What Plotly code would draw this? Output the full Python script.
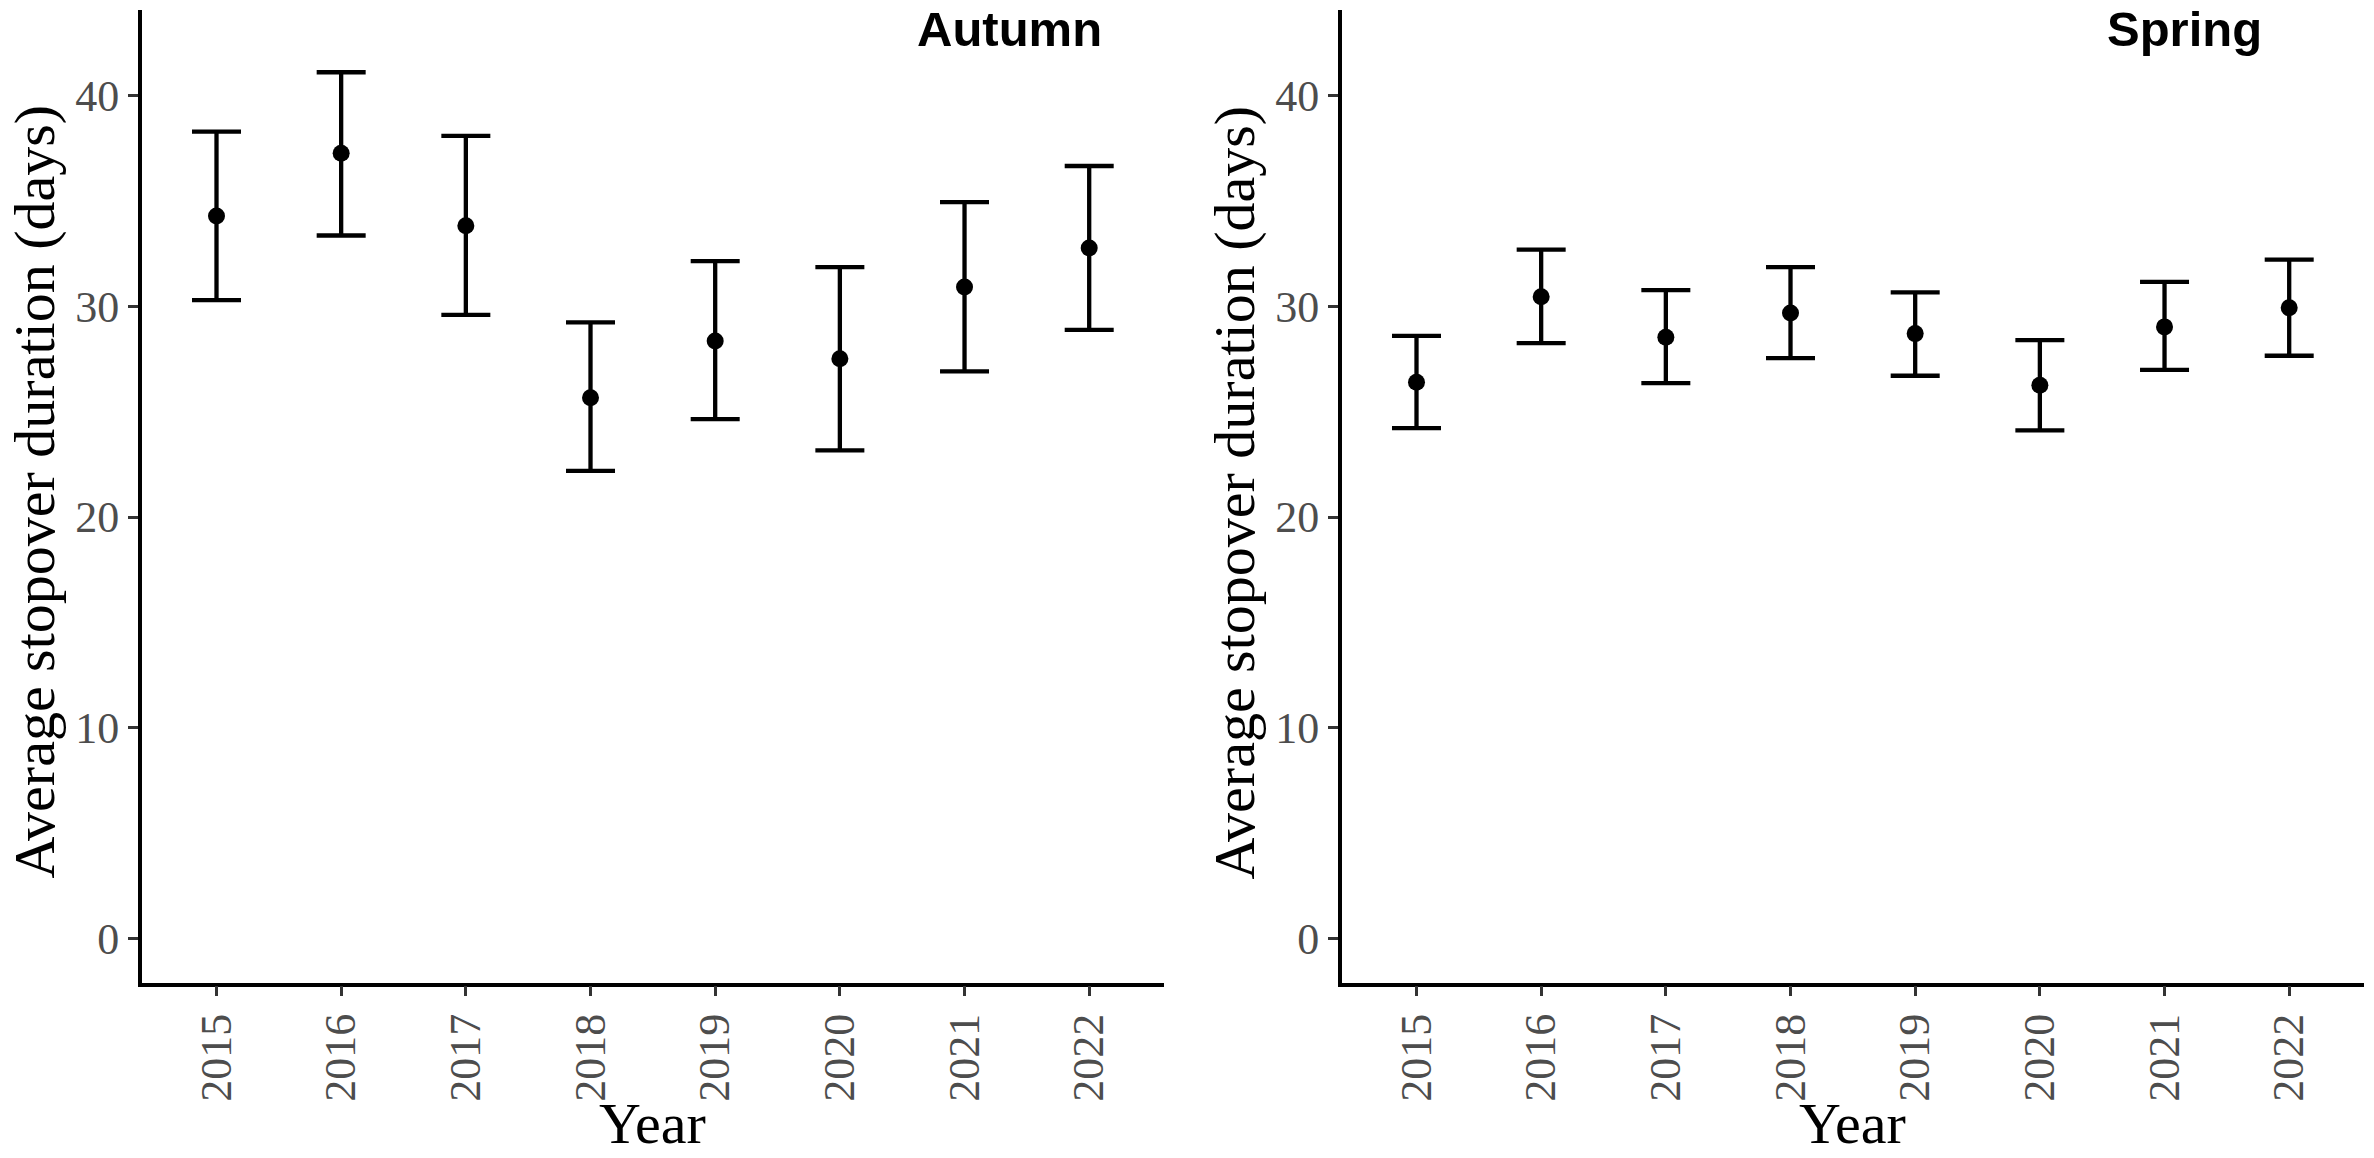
import plotly.graph_objects as go

# Years on the x axis (shared by both panels)
years = [2015, 2016, 2017, 2018, 2019, 2020, 2021, 2022]
y_ticks = [0, 10, 20, 30, 40]

# Autumn: mean stopover duration and error-bar limits
autumn_mean = [34.3, 37.27, 33.83, 25.66, 28.36, 27.52, 30.92, 32.78]
autumn_upper = [38.3, 41.12, 38.1, 29.24, 32.15, 31.87, 34.95, 36.67]
autumn_lower = [30.3, 33.37, 29.6, 22.19, 24.65, 23.17, 26.92, 28.89]

# Spring
spring_mean = [26.4, 30.46, 28.54, 29.69, 28.71, 26.26, 29.03, 29.94]
spring_upper = [28.6, 32.7, 30.78, 31.87, 30.67, 28.4, 31.17, 32.22]
spring_lower = [24.22, 28.26, 26.36, 27.55, 26.71, 24.12, 26.99, 27.66]

panels = ["Autumn", "Spring"]

W, H = 2374, 1158
SERIF = "Liberation Serif, Times New Roman, serif"
SANS = "Liberation Sans, Arial, sans-serif"


def px_x(p):
    return p / W


def px_y(p):
    return 1 - p / H


fig = go.Figure()

series = [
    (autumn_mean, autumn_upper, autumn_lower),
    (spring_mean, spring_upper, spring_lower),
]
for i, (mean, upper, lower) in enumerate(series):
    ax = "" if i == 0 else str(i + 1)
    fig.add_trace(go.Scatter(
        x=years, y=mean, mode="markers",
        marker=dict(color="black", size=17),
        error_y=dict(
            type="data", symmetric=False,
            array=[u - m for u, m in zip(upper, mean)],
            arrayminus=[m - l for m, l in zip(mean, lower)],
            color="black", thickness=4.3, width=24.5,
        ),
        xaxis="x" + ax, yaxis="y" + ax, showlegend=False,
    ))

axis_common = dict(
    showgrid=False, zeroline=False, showline=True,
    linecolor="black", linewidth=3.5,
    ticks="outside", ticklen=10, tickwidth=3.3, tickcolor="#333333",
    tickfont=dict(family=SERIF, size=44, color="#4D4D4D"),
    automargin=False,
)

x_domains = [[px_x(141.7), px_x(1164)], [px_x(1341.7), px_x(2364)]]
y_domain = [px_y(982.5), px_y(9.5)]

layout = dict(
    width=W, height=H,
    margin=dict(l=0, r=0, t=0, b=0),
    paper_bgcolor="white", plot_bgcolor="white",
)
for i in range(2):
    suffix = "" if i == 0 else str(i + 1)
    layout["xaxis" + suffix] = dict(
        axis_common, domain=x_domains[i], range=[2014.4, 2022.6],
        tickvals=years, ticktext=[str(y) for y in years], tickangle=-90,
        anchor="y" + suffix,
    )
    layout["yaxis" + suffix] = dict(
        axis_common, domain=y_domain, range=[-2.1, 44.1],
        tickvals=y_ticks, anchor="x" + suffix,
    )
fig.update_layout(**layout)

annotations = []
y_title_x = [0, 1200]
panel_label_x = [1010, 2184.5]
for i, name in enumerate(panels):
    annotations.append(dict(
        text="Average stopover duration (days)", textangle=-90,
        xref="paper", yref="paper", x=px_x(y_title_x[i]), y=px_y(492),
        xanchor="left", yanchor="middle", showarrow=False,
        font=dict(family=SERIF, size=58, color="black"),
    ))
    annotations.append(dict(
        text="Year", xref="paper", yref="paper",
        x=(x_domains[i][0] + x_domains[i][1]) / 2, y=0,
        xanchor="center", yanchor="bottom", showarrow=False,
        font=dict(family=SERIF, size=58, color="black"),
    ))
    annotations.append(dict(
        text="<b>" + name + "</b>", xref="paper", yref="paper",
        x=px_x(panel_label_x[i]), y=1,
        xanchor="center", yanchor="top", showarrow=False,
        font=dict(family=SANS, size=49, color="black"),
    ))
fig.update_layout(annotations=annotations)

# the page body has a default 8px margin; drop it so the figure sits at 0,0
fig.write_html(
    "out.html",
    config={"displayModeBar": False},
    post_script="document.body.style.margin='0px';",
)
